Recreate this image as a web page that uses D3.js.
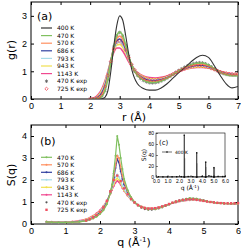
<!DOCTYPE html>
<html>
<head>
<meta charset="utf-8">
<script src="https://d3js.org/d3.v7.min.js"></script>
<style>
    body { margin: 0; background: #fff; }
    svg { display: block; font-family: "DejaVu Sans", sans-serif; }
    .tick text { font-size: 9px; }
    .frame { fill: none; stroke: #000; stroke-width: 1; }
</style>
</head>
<body>
<script>
//pseudo-global data

//temperatures and colors of the simulation curves
var tempLabels = ["400 K", "470 K", "570 K", "686 K", "793 K", "943 K", "1143 K"];
var tempColors = ["#333333", "#80c060", "#ff9060", "#3040a0", "#a8dce8", "#f0e050", "#f04890"];

//panel (a): g(r)
var rGrid = [2.0, 2.1, 2.2, 2.3, 2.4, 2.5, 2.6, 2.7, 2.8, 2.9, 3.0, 3.1, 3.2, 3.3, 3.4, 3.6, 3.8, 4.0, 4.2, 4.4, 4.6, 4.8, 5.0, 5.2, 5.4, 5.6, 5.8, 6.0, 6.2, 6.4, 6.6, 6.8, 7.0];
var g400 = [0, 0, 0, 0, 0.01, 0.06, 0.3, 1.0, 1.9, 2.65, 3.0, 2.85, 2.3, 1.65, 1.1, 0.55, 0.38, 0.32, 0.32, 0.4, 0.55, 0.75, 0.95, 1.13, 1.33, 1.5, 1.58, 1.5, 1.2, 0.85, 0.55, 0.4, 0.45];
var g470 = [0, 0, 0.01, 0.03, 0.1, 0.3, 0.72, 1.3, 1.88, 2.3, 2.42, 2.3, 1.96, 1.56, 1.23, 0.85, 0.68, 0.6, 0.6, 0.65, 0.75, 0.88, 1.02, 1.14, 1.23, 1.29, 1.3, 1.23, 1.09, 0.96, 0.88, 0.84, 0.84];
var g570 = [0, 0, 0.02, 0.06, 0.16, 0.4, 0.82, 1.36, 1.86, 2.18, 2.27, 2.16, 1.87, 1.52, 1.23, 0.88, 0.71, 0.64, 0.63, 0.67, 0.76, 0.88, 1.01, 1.12, 1.2, 1.25, 1.26, 1.2, 1.08, 0.97, 0.9, 0.86, 0.86];
var g686 = [0, 0.01, 0.03, 0.09, 0.22, 0.47, 0.88, 1.38, 1.83, 2.1, 2.16, 2.05, 1.8, 1.5, 1.23, 0.9, 0.74, 0.67, 0.66, 0.69, 0.77, 0.88, 1.0, 1.1, 1.17, 1.22, 1.22, 1.17, 1.07, 0.97, 0.91, 0.88, 0.87];
var g793 = [0, 0.01, 0.04, 0.12, 0.27, 0.53, 0.92, 1.38, 1.79, 2.02, 2.06, 1.96, 1.74, 1.46, 1.22, 0.92, 0.77, 0.7, 0.69, 0.72, 0.79, 0.89, 1.0, 1.09, 1.15, 1.19, 1.19, 1.15, 1.07, 0.98, 0.92, 0.89, 0.88];
var g943 = [0, 0.02, 0.06, 0.15, 0.32, 0.58, 0.96, 1.39, 1.75, 1.95, 1.97, 1.87, 1.67, 1.43, 1.2, 0.94, 0.8, 0.73, 0.72, 0.75, 0.81, 0.9, 0.99, 1.07, 1.13, 1.16, 1.16, 1.13, 1.06, 0.99, 0.93, 0.9, 0.89];
var g1143 = [0.01, 0.03, 0.09, 0.2, 0.38, 0.65, 1.0, 1.38, 1.68, 1.84, 1.84, 1.73, 1.55, 1.35, 1.17, 0.96, 0.83, 0.77, 0.76, 0.78, 0.83, 0.91, 0.99, 1.06, 1.11, 1.14, 1.14, 1.12, 1.06, 1.0, 0.95, 0.92, 0.91];

//experimental g(r)
var rExp = [2.0, 2.1, 2.2, 2.3, 2.4, 2.5, 2.6, 2.7, 2.8, 2.9, 3.0, 3.1, 3.2, 3.3, 3.4, 3.5, 3.6, 3.7, 3.8, 3.9, 4.0, 4.1, 4.2, 4.3, 4.4, 4.5, 4.6, 4.7, 4.8, 4.9, 5.0, 5.1, 5.2, 5.3, 5.4, 5.5, 5.6, 5.7, 5.8, 5.9, 6.0, 6.1, 6.2, 6.3, 6.4, 6.5, 6.6, 6.7, 6.8, 6.9, 7.0];
var g470exp = [0, 0, 0.01, 0.03, 0.1, 0.3, 0.7, 1.3, 1.88, 2.28, 2.4, 2.28, 1.95, 1.55, 1.23, 1.0, 0.85, 0.74, 0.67, 0.62, 0.59, 0.58, 0.59, 0.61, 0.65, 0.7, 0.76, 0.82, 0.89, 0.96, 1.03, 1.09, 1.15, 1.2, 1.24, 1.28, 1.3, 1.31, 1.3, 1.27, 1.22, 1.16, 1.09, 1.02, 0.96, 0.92, 0.89, 0.87, 0.86, 0.86, 0.87];
var g725exp = [0, 0.01, 0.03, 0.08, 0.2, 0.45, 0.85, 1.36, 1.8, 2.05, 2.1, 2.0, 1.77, 1.5, 1.25, 1.06, 0.92, 0.81, 0.75, 0.71, 0.69, 0.68, 0.68, 0.7, 0.72, 0.76, 0.8, 0.85, 0.9, 0.96, 1.01, 1.06, 1.1, 1.14, 1.17, 1.19, 1.2, 1.2, 1.19, 1.17, 1.14, 1.1, 1.06, 1.02, 0.98, 0.95, 0.93, 0.91, 0.9, 0.9, 0.9];

//panel (b): S(q)
var qGrid = [0.45, 0.6, 0.8, 1.0, 1.2, 1.4, 1.6, 1.8, 1.9, 2.0, 2.1, 2.2, 2.3, 2.35, 2.4, 2.45, 2.5, 2.55, 2.6, 2.65, 2.7, 2.8, 2.9, 3.0, 3.1, 3.2, 3.4, 3.6, 3.8, 4.0, 4.2, 4.4, 4.6, 4.8, 5.0, 5.2, 5.4, 5.6, 5.8, 6.0];
var s470 = [0.1, 0.08, 0.07, 0.07, 0.08, 0.1, 0.14, 0.25, 0.33, 0.45, 0.62, 0.9, 1.4, 1.8, 2.4, 3.1, 4.0, 3.6, 3.0, 2.5, 2.05, 1.55, 1.22, 1.0, 0.85, 0.76, 0.66, 0.67, 0.76, 0.9, 1.02, 1.1, 1.18, 1.15, 1.07, 1.0, 0.95, 0.93, 0.92, 0.93];
var s570 = [0.09, 0.08, 0.07, 0.07, 0.08, 0.1, 0.15, 0.27, 0.36, 0.48, 0.66, 0.95, 1.4, 1.75, 2.2, 2.7, 3.1, 3.0, 2.6, 2.2, 1.9, 1.5, 1.2, 0.99, 0.85, 0.76, 0.67, 0.68, 0.77, 0.9, 1.01, 1.09, 1.15, 1.13, 1.06, 1.0, 0.96, 0.94, 0.93, 0.93];
var s686 = [0.09, 0.08, 0.07, 0.08, 0.09, 0.11, 0.16, 0.29, 0.39, 0.52, 0.7, 1.0, 1.42, 1.72, 2.1, 2.55, 2.95, 2.8, 2.4, 2.05, 1.8, 1.45, 1.18, 0.99, 0.86, 0.77, 0.68, 0.69, 0.78, 0.9, 1.0, 1.08, 1.13, 1.12, 1.06, 1.0, 0.96, 0.94, 0.93, 0.93];
var s793 = [0.09, 0.08, 0.08, 0.08, 0.09, 0.12, 0.18, 0.32, 0.42, 0.56, 0.75, 1.03, 1.4, 1.65, 1.92, 2.15, 2.25, 2.15, 1.95, 1.75, 1.58, 1.32, 1.12, 0.97, 0.86, 0.78, 0.7, 0.71, 0.79, 0.9, 0.99, 1.06, 1.11, 1.1, 1.05, 1.0, 0.96, 0.94, 0.93, 0.93];
var s943 = [0.1, 0.09, 0.08, 0.08, 0.1, 0.13, 0.2, 0.35, 0.45, 0.59, 0.78, 1.04, 1.38, 1.6, 1.82, 2.0, 2.08, 2.0, 1.85, 1.68, 1.53, 1.3, 1.11, 0.97, 0.87, 0.79, 0.71, 0.72, 0.8, 0.9, 0.99, 1.05, 1.1, 1.09, 1.05, 1.0, 0.96, 0.94, 0.93, 0.93];
var s1143 = [0.11, 0.1, 0.09, 0.09, 0.11, 0.15, 0.22, 0.38, 0.49, 0.63, 0.82, 1.07, 1.37, 1.55, 1.73, 1.88, 1.95, 1.9, 1.78, 1.63, 1.5, 1.28, 1.1, 0.97, 0.87, 0.8, 0.72, 0.73, 0.8, 0.9, 0.98, 1.04, 1.08, 1.08, 1.04, 1.0, 0.96, 0.94, 0.93, 0.93];

//experimental S(q)
var qExp = [1.6, 1.7, 1.8, 1.9, 2.0, 2.1, 2.2, 2.3, 2.4, 2.5, 2.6, 2.7, 2.8, 2.9, 3.0, 3.1, 3.2, 3.3, 3.4, 3.5, 3.6, 3.7, 3.8, 3.9, 4.0, 4.1, 4.2, 4.3, 4.4, 4.5, 4.6, 4.7, 4.8, 4.9, 5.0, 5.1, 5.2, 5.3, 5.4, 5.5, 5.6, 5.7, 5.8, 5.9, 6.0];
var s470exp = [0.15, 0.2, 0.27, 0.37, 0.5, 0.7, 1.0, 1.5, 2.3, 3.1, 2.5, 1.9, 1.5, 1.2, 0.98, 0.84, 0.74, 0.68, 0.65, 0.65, 0.67, 0.71, 0.76, 0.82, 0.89, 0.96, 1.02, 1.07, 1.11, 1.14, 1.16, 1.16, 1.14, 1.11, 1.07, 1.03, 1.0, 0.98, 0.96, 0.95, 0.94, 0.94, 0.94, 0.94, 0.95];
var s725exp = [0.16, 0.22, 0.3, 0.41, 0.55, 0.76, 1.05, 1.48, 2.0, 2.2, 1.95, 1.62, 1.35, 1.14, 0.98, 0.86, 0.77, 0.72, 0.7, 0.7, 0.72, 0.75, 0.8, 0.85, 0.91, 0.97, 1.02, 1.06, 1.09, 1.11, 1.12, 1.12, 1.1, 1.08, 1.05, 1.02, 1.0, 0.98, 0.96, 0.95, 0.94, 0.94, 0.94, 0.94, 0.95];

//inset (c): crystalline S(q) at 400 K
var insetQ = [0.2, 0.6, 1.0, 1.4, 1.8, 2.2, 2.44, 2.46, 2.48, 2.8, 3.2, 3.52, 3.54, 3.56, 4.0, 4.3, 4.32, 4.34, 4.6, 4.8, 5.02, 5.04, 5.06, 5.4, 5.8, 6.0];
var insetS = [0.5, 0.3, 0.3, 0.4, 0.5, 0.6, 0, 76, 0, 0.8, 0.6, 0, 44, 0, 1, 0, 27, 0, 2, 1, 0, 17, 0, 1, 0.8, 0.8];
var insetGrayQ = [2.5, 3.58, 4.36, 5.08];
var insetGrayS = [34, 25, 18, 16];

//begin script
(function(){

    var width = 241, height = 250;

    var svg = d3.select("body")
        .append("svg")
        .attr("width", width)
        .attr("height", height);

    var gSeries = [g400, g470, g570, g686, g793, g943, g1143];
    var sSeries = [s470, s570, s686, s793, s943, s1143];

    //panel (a)
    var xA = d3.scaleLinear().domain([0, 7]).range([31, 238]);
    var yA = d3.scaleLinear().domain([0, 3.5]).range([99, 2]);
    drawFrame(xA, yA, d3.range(0, 8), [0, 1, 2, 3]);

    var lineA = d3.line()
        .x(function(d){ return xA(d[0]); })
        .y(function(d){ return yA(d[1]); })
        .curve(d3.curveMonotoneX);

    svg.append("clipPath").attr("id", "clipA")
        .append("rect").attr("x", 31).attr("y", 2).attr("width", 207).attr("height", 97);

    var plotA = svg.append("g").attr("clip-path", "url(#clipA)");

    //experimental points behind the curves
    plotA.selectAll(".exp470a")
        .data(d3.zip(rExp, g470exp))
        .enter()
        .append("path")
        .attr("class", "exp470a")
        .attr("transform", function(d){ return "translate(" + xA(d[0]) + "," + yA(d[1]) + ")"; })
        .attr("d", d3.symbol().type(d3.symbolAsterisk).size(9))
        .style("fill", "none")
        .style("stroke", "#555")
        .style("stroke-width", 0.7);

    for (var i = gSeries.length - 1; i >= 0; i--) {
        plotA.append("path")
            .datum(d3.zip(rGrid, gSeries[i]))
            .attr("d", lineA)
            .style("fill", "none")
            .style("stroke", tempColors[i])
            .style("stroke-width", i == 0 ? 1.1 : 1.6);
    };

    plotA.selectAll(".exp725a")
        .data(d3.zip(rExp, g725exp))
        .enter()
        .append("path")
        .attr("class", "exp725a")
        .attr("transform", function(d){ return "translate(" + xA(d[0]) + "," + yA(d[1]) + ")"; })
        .attr("d", d3.symbol().type(d3.symbolDiamond2).size(7))
        .style("fill", "none")
        .style("stroke", "#ee3344")
        .style("stroke-width", 0.6);

    //labels for (a)
    svg.append("text").attr("x", 37).attr("y", 20).style("font-size", "11px").text("(a)");
    svg.append("text").attr("x", 134).attr("y", 121).attr("text-anchor", "middle").style("font-size", "11px").text("r (Å)");
    svg.append("text").attr("transform", "translate(15,50) rotate(-90)").attr("text-anchor", "middle").style("font-size", "11px").text("g(r)");

    //legend (a)
    var legA = 28, stepA = 7.6;
    tempLabels.forEach(function(t, i){
        var y = legA + i * stepA;
        svg.append("line").attr("x1", 41).attr("x2", 52).attr("y1", y).attr("y2", y)
            .style("stroke", tempColors[i]).style("stroke-width", 1.2);
        svg.append("text").attr("x", 57).attr("y", y + 2.2).style("font-size", "6px").text(t);
    });
    legendMarker(46.5, legA + 7 * stepA, d3.symbolAsterisk, 9, "#555");
    svg.append("text").attr("x", 57).attr("y", legA + 7 * stepA + 2.2).style("font-size", "6px").text("470 K exp");
    legendMarker(46.5, legA + 8 * stepA, d3.symbolDiamond2, 7, "#ee3344");
    svg.append("text").attr("x", 57).attr("y", legA + 8 * stepA + 2.2).style("font-size", "6px").text("725 K exp");

    //panel (b)
    var xB = d3.scaleLinear().domain([0, 6]).range([31, 238]);
    var yB = d3.scaleLinear().domain([0, 4.5]).range([224, 125]);
    drawFrame(xB, yB, d3.range(0, 7), [0, 1, 2, 3, 4]);

    var lineB = d3.line()
        .x(function(d){ return xB(d[0]); })
        .y(function(d){ return yB(d[1]); });

    var plotB = svg.append("g");

    plotB.selectAll(".exp470b")
        .data(d3.zip(qExp, s470exp))
        .enter()
        .append("circle")
        .attr("class", "exp470b")
        .attr("cx", function(d){ return xB(d[0]); })
        .attr("cy", function(d){ return yB(d[1]); })
        .attr("r", 1.1)
        .style("fill", "#555");

    for (var j = sSeries.length - 1; j >= 0; j--) {
        var pts = d3.zip(qGrid, sSeries[j]);
        plotB.append("path")
            .datum(pts)
            .attr("d", lineB)
            .style("fill", "none")
            .style("stroke", tempColors[j + 1])
            .style("stroke-width", 1.2);
        plotB.selectAll(".mk" + j)
            .data(pts)
            .enter()
            .append("circle")
            .attr("class", "mk" + j)
            .attr("cx", function(d){ return xB(d[0]); })
            .attr("cy", function(d){ return yB(d[1]); })
            .attr("r", 1)
            .style("fill", tempColors[j + 1]);
    };

    plotB.selectAll(".exp725b")
        .data(d3.zip(qExp, s725exp))
        .enter()
        .append("rect")
        .attr("class", "exp725b")
        .attr("x", function(d){ return xB(d[0]) - 1.2; })
        .attr("y", function(d){ return yB(d[1]) - 1.2; })
        .attr("width", 2.4)
        .attr("height", 2.4)
        .style("fill", "#f05060");

    //labels for (b)
    svg.append("text").attr("x", 40).attr("y", 145).style("font-size", "11px").text("(b)");
    var qLabel = svg.append("text").attr("x", 134).attr("y", 246).attr("text-anchor", "middle").style("font-size", "11px").text("q (Å");
    qLabel.append("tspan").attr("dy", -4).style("font-size", "7px").text("-1");
    qLabel.append("tspan").attr("dy", 4).text(")");
    svg.append("text").attr("transform", "translate(15,175) rotate(-90)").attr("text-anchor", "middle").style("font-size", "11px").text("S(q)");

    //legend (b)
    var legB = 157.3, stepB = 7.5;
    tempLabels.slice(1).forEach(function(t, i){
        var y = legB + i * stepB;
        svg.append("line").attr("x1", 41).attr("x2", 52).attr("y1", y).attr("y2", y)
            .style("stroke", tempColors[i + 1]).style("stroke-width", 1.2);
        svg.append("circle").attr("cx", 46.5).attr("cy", y).attr("r", 1).style("fill", tempColors[i + 1]);
        svg.append("text").attr("x", 57).attr("y", y + 2.2).style("font-size", "6px").text(t);
    });
    svg.append("circle").attr("cx", 46.5).attr("cy", legB + 6 * stepB).attr("r", 1.1).style("fill", "#555");
    svg.append("text").attr("x", 57).attr("y", legB + 6 * stepB + 2.2).style("font-size", "6px").text("470 K exp");
    svg.append("rect").attr("x", 45.3).attr("y", legB + 7 * stepB - 1.2).attr("width", 2.4).attr("height", 2.4).style("fill", "#f05060");
    svg.append("text").attr("x", 57).attr("y", legB + 7 * stepB + 2.2).style("font-size", "6px").text("725 K exp");

    //inset (c)
    var xC = d3.scaleLinear().domain([0, 6]).range([156, 225]);
    var yC = d3.scaleLinear().domain([0, 80]).range([177, 133]);

    svg.append("rect").attr("x", 156).attr("y", 133).attr("width", 69).attr("height", 44).style("fill", "#fff");

    svg.selectAll(".grayBar")
        .data(d3.zip(insetGrayQ, insetGrayS))
        .enter()
        .append("line")
        .attr("class", "grayBar")
        .attr("x1", function(d){ return xC(d[0]); })
        .attr("x2", function(d){ return xC(d[0]); })
        .attr("y1", yC(0))
        .attr("y2", function(d){ return yC(d[1]); })
        .style("stroke", "#c8c8c8")
        .style("stroke-width", 1.4);

    var lineC = d3.line()
        .x(function(d){ return xC(d[0]); })
        .y(function(d){ return yC(d[1]); });
    svg.append("path")
        .datum(d3.zip(insetQ, insetS))
        .attr("d", lineC)
        .style("fill", "none")
        .style("stroke", "#111")
        .style("stroke-width", 0.6);
    svg.selectAll(".insetMk")
        .data(d3.zip(insetQ, insetS))
        .enter()
        .append("rect")
        .attr("class", "insetMk")
        .attr("x", function(d){ return xC(d[0]) - 0.7; })
        .attr("y", function(d){ return yC(d[1]) - 0.7; })
        .attr("width", 1.4)
        .attr("height", 1.4)
        .style("fill", "#111");

    var insetX = svg.append("g").attr("transform", "translate(0,177)")
        .call(d3.axisBottom(xC).tickValues(d3.range(0, 7)).tickSize(-2).tickPadding(2));
    var insetY = svg.append("g").attr("transform", "translate(156,0)")
        .call(d3.axisLeft(yC).tickValues([0, 20, 40, 60, 80]).tickSize(-2).tickPadding(2));
    [insetX, insetY].forEach(function(a){
        a.selectAll("text").style("font-size", "5px");
        a.select(".domain").remove();
        a.selectAll("line").style("stroke-width", 0.5);
    });
    svg.append("rect").attr("class", "frame").attr("x", 156).attr("y", 133).attr("width", 69).attr("height", 44).style("stroke-width", 0.6);

    svg.append("text").attr("x", 159).attr("y", 145).style("font-size", "7px").text("(c)");
    svg.append("line").attr("x1", 162).attr("x2", 172).attr("y1", 152).attr("y2", 152).style("stroke", "#111").style("stroke-width", 0.6);
    svg.append("rect").attr("x", 166.3).attr("y", 151.3).attr("width", 1.4).attr("height", 1.4).style("fill", "#111");
    svg.append("text").attr("x", 175).attr("y", 153.7).style("font-size", "4.5px").text("400 K");
    svg.append("text").attr("transform", "translate(146,155) rotate(-90)").attr("text-anchor", "middle").style("font-size", "6px").text("S(q)");
    var qc = svg.append("text").attr("x", 190).attr("y", 190).attr("text-anchor", "middle").style("font-size", "6px").text("q (Å");
    qc.append("tspan").attr("dy", -2).style("font-size", "4px").text("-1");
    qc.append("tspan").attr("dy", 2).text(")");

    //draw axes and box for a main panel
    function drawFrame(x, y, xt, yt){
        var r = x.range(), h = y.range();
        var bottom = svg.append("g").attr("transform", "translate(0," + h[0] + ")")
            .call(d3.axisBottom(x).tickValues(xt).tickFormat(d3.format("d")).tickSize(-3).tickPadding(4));
        var top = svg.append("g").attr("transform", "translate(0," + h[1] + ")")
            .call(d3.axisTop(x).tickValues(xt).tickFormat("").tickSize(-3));
        var left = svg.append("g").attr("transform", "translate(" + r[0] + ",0)")
            .call(d3.axisLeft(y).tickValues(yt).tickFormat(d3.format("d")).tickSize(-3).tickPadding(4));
        var right = svg.append("g").attr("transform", "translate(" + r[1] + ",0)")
            .call(d3.axisRight(y).tickValues(yt).tickFormat("").tickSize(-3));
        [bottom, top, left, right].forEach(function(a){ a.select(".domain").remove(); });
        svg.append("rect").attr("class", "frame")
            .attr("x", r[0]).attr("y", h[1])
            .attr("width", r[1] - r[0]).attr("height", h[0] - h[1]);
    };

    function legendMarker(x, y, type, size, color){
        svg.append("path")
            .attr("transform", "translate(" + x + "," + y + ")")
            .attr("d", d3.symbol().type(type).size(size))
            .style("fill", "none")
            .style("stroke", color)
            .style("stroke-width", 0.7);
    };

})();
</script>
</body>
</html>
